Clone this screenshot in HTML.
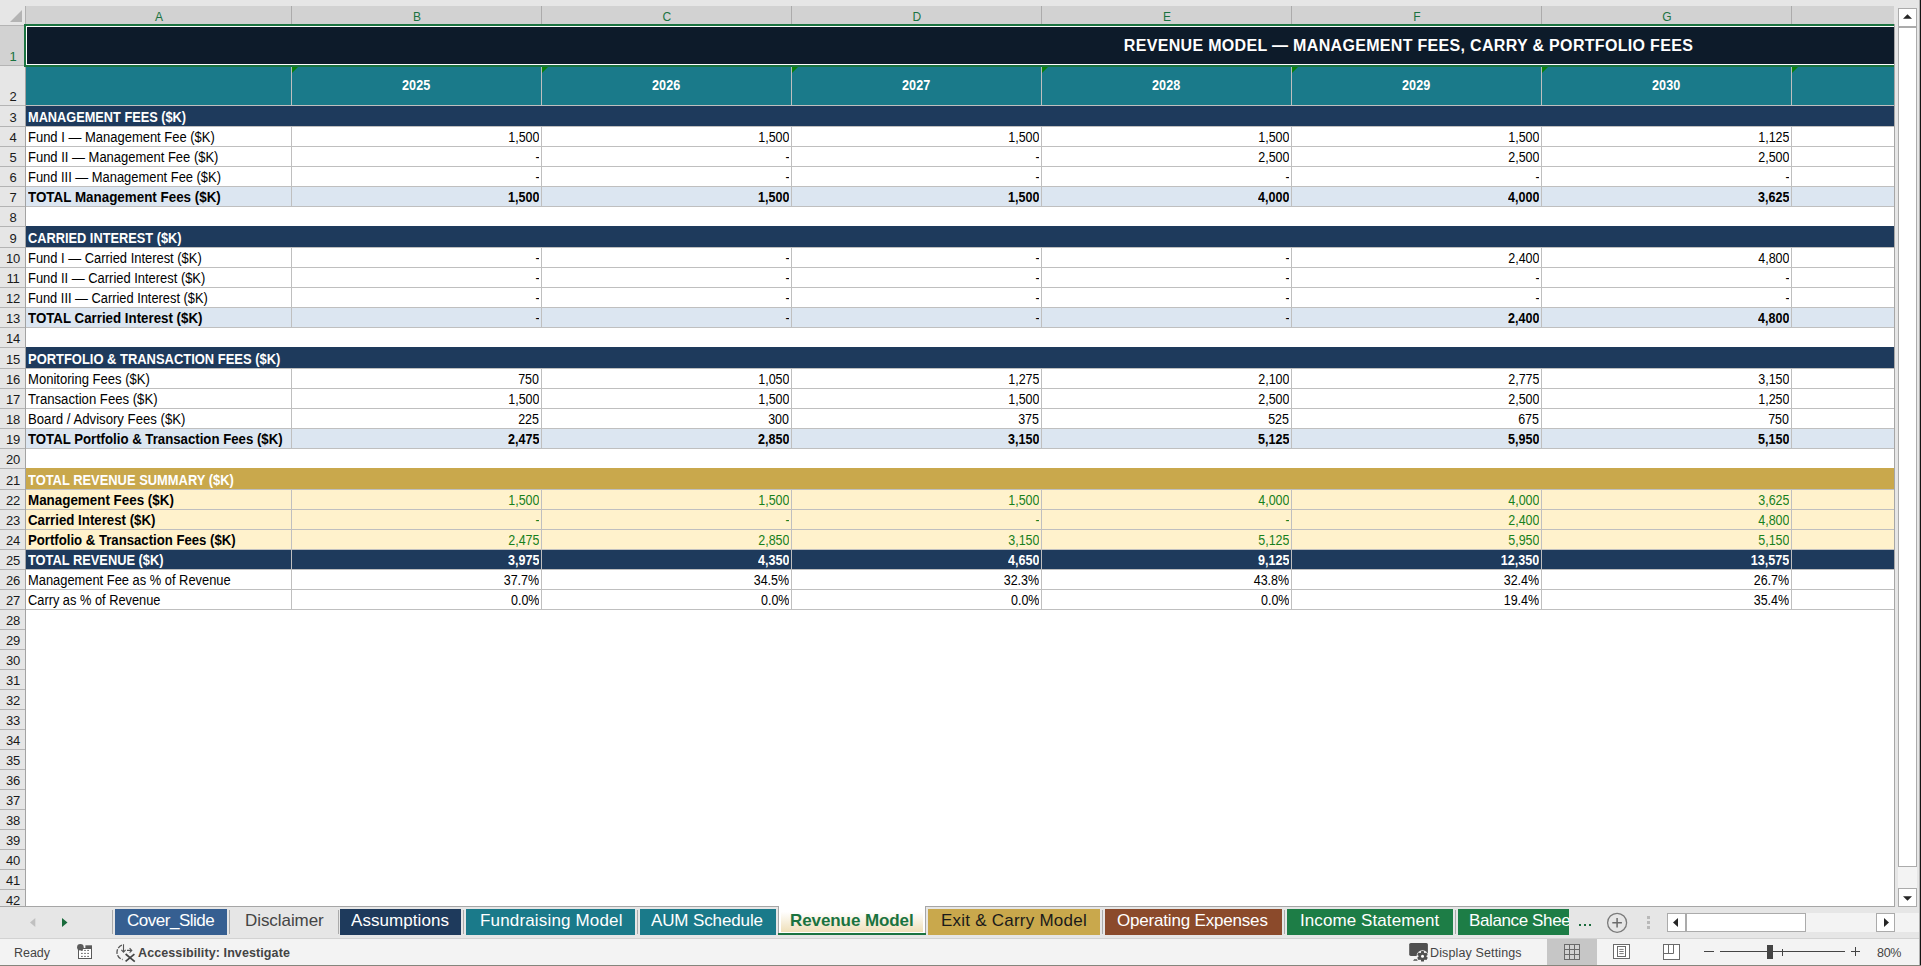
<!DOCTYPE html><html><head><meta charset="utf-8"><title>Revenue Model</title><style>
html,body{margin:0;padding:0}
body{width:1921px;height:966px;overflow:hidden;background:#e6e6e6;position:relative;font-family:"Liberation Sans",sans-serif}
body>div,body>svg{position:absolute;display:block}
.t{white-space:nowrap;overflow:hidden;font-size:13.8px;color:#000}
.sl{display:inline-block;transform-origin:0 50%}
.sr{display:inline-block;transform-origin:100% 50%;transform:scaleX(0.906)}
.bold .sr{transform:scaleX(0.91)}
.ch{text-align:center;font-size:12px;color:#1a7340}
.rh{text-align:center;font-size:13px;letter-spacing:-0.2px}
.title{font-size:16px;font-weight:bold;color:#fff;letter-spacing:0.32px}
.yr{text-align:center;font-weight:bold;color:#fff;font-size:14.5px}
.yr span{display:inline-block;transform:scaleX(0.87)}
.lab{text-align:left}
.num{text-align:right}
.bold{font-weight:bold}
.white{color:#fff}
.green{color:#18801c}
.tab{text-align:left;font-size:17px}
.st{font-size:12.5px;color:#444}
</style></head><body>
<div style="left:0px;top:0px;width:1921px;height:6px;background:#e6e6e6;"></div>
<div style="left:25px;top:6px;width:1869px;height:18px;background:#d2d2d2;"></div>
<div style="left:0px;top:6px;width:25px;height:18px;background:#e6e6e6;"></div>
<svg style="left:8px;top:9px" width="16" height="14" viewBox="0 0 16 14"><path d="M14 1 L14 13 L2 13 Z" fill="#b4b4b4"/></svg>
<div class="t ch" style="left:26.4px;top:8px;width:265px;height:18px;line-height:18px;">A</div>
<div class="t ch" style="left:292.4px;top:8px;width:249px;height:18px;line-height:18px;">B</div>
<div class="t ch" style="left:542.4px;top:8px;width:249px;height:18px;line-height:18px;">C</div>
<div class="t ch" style="left:792.4px;top:8px;width:249px;height:18px;line-height:18px;">D</div>
<div class="t ch" style="left:1042.4px;top:8px;width:249px;height:18px;line-height:18px;">E</div>
<div class="t ch" style="left:1292.4px;top:8px;width:249px;height:18px;line-height:18px;">F</div>
<div class="t ch" style="left:1542.4px;top:8px;width:249px;height:18px;line-height:18px;">G</div>
<div style="left:291px;top:6px;width:1px;height:18px;background:#ababab;"></div>
<div style="left:541px;top:6px;width:1px;height:18px;background:#ababab;"></div>
<div style="left:791px;top:6px;width:1px;height:18px;background:#ababab;"></div>
<div style="left:1041px;top:6px;width:1px;height:18px;background:#ababab;"></div>
<div style="left:1291px;top:6px;width:1px;height:18px;background:#ababab;"></div>
<div style="left:1541px;top:6px;width:1px;height:18px;background:#ababab;"></div>
<div style="left:1791px;top:6px;width:1px;height:18px;background:#ababab;"></div>
<div style="left:0px;top:24px;width:25px;height:882px;background:#e6e6e6;"></div>
<div style="left:0px;top:26px;width:25px;height:39px;background:#d2d2d2;"></div>
<div class="t rh" style="left:0.5px;top:48px;width:25px;height:18px;line-height:18px;color:#1a7340;">1</div>
<div style="left:0px;top:65px;width:25px;height:1px;background:#b4b4b4;"></div>
<div class="t rh" style="left:0.5px;top:88px;width:25px;height:18px;line-height:18px;color:#1a1a1a;">2</div>
<div style="left:0px;top:105px;width:25px;height:1px;background:#b4b4b4;"></div>
<div class="t rh" style="left:0.5px;top:109px;width:25px;height:18px;line-height:18px;color:#1a1a1a;">3</div>
<div style="left:0px;top:126px;width:25px;height:1px;background:#b4b4b4;"></div>
<div class="t rh" style="left:0.5px;top:129px;width:25px;height:18px;line-height:18px;color:#1a1a1a;">4</div>
<div style="left:0px;top:146px;width:25px;height:1px;background:#b4b4b4;"></div>
<div class="t rh" style="left:0.5px;top:149px;width:25px;height:18px;line-height:18px;color:#1a1a1a;">5</div>
<div style="left:0px;top:166px;width:25px;height:1px;background:#b4b4b4;"></div>
<div class="t rh" style="left:0.5px;top:169px;width:25px;height:18px;line-height:18px;color:#1a1a1a;">6</div>
<div style="left:0px;top:186px;width:25px;height:1px;background:#b4b4b4;"></div>
<div class="t rh" style="left:0.5px;top:189px;width:25px;height:18px;line-height:18px;color:#1a1a1a;">7</div>
<div style="left:0px;top:206px;width:25px;height:1px;background:#b4b4b4;"></div>
<div class="t rh" style="left:0.5px;top:209px;width:25px;height:18px;line-height:18px;color:#1a1a1a;">8</div>
<div style="left:0px;top:226px;width:25px;height:1px;background:#b4b4b4;"></div>
<div class="t rh" style="left:0.5px;top:230px;width:25px;height:18px;line-height:18px;color:#1a1a1a;">9</div>
<div style="left:0px;top:247px;width:25px;height:1px;background:#b4b4b4;"></div>
<div class="t rh" style="left:0.5px;top:250px;width:25px;height:18px;line-height:18px;color:#1a1a1a;">10</div>
<div style="left:0px;top:267px;width:25px;height:1px;background:#b4b4b4;"></div>
<div class="t rh" style="left:0.5px;top:270px;width:25px;height:18px;line-height:18px;color:#1a1a1a;">11</div>
<div style="left:0px;top:287px;width:25px;height:1px;background:#b4b4b4;"></div>
<div class="t rh" style="left:0.5px;top:290px;width:25px;height:18px;line-height:18px;color:#1a1a1a;">12</div>
<div style="left:0px;top:307px;width:25px;height:1px;background:#b4b4b4;"></div>
<div class="t rh" style="left:0.5px;top:310px;width:25px;height:18px;line-height:18px;color:#1a1a1a;">13</div>
<div style="left:0px;top:327px;width:25px;height:1px;background:#b4b4b4;"></div>
<div class="t rh" style="left:0.5px;top:330px;width:25px;height:18px;line-height:18px;color:#1a1a1a;">14</div>
<div style="left:0px;top:347px;width:25px;height:1px;background:#b4b4b4;"></div>
<div class="t rh" style="left:0.5px;top:351px;width:25px;height:18px;line-height:18px;color:#1a1a1a;">15</div>
<div style="left:0px;top:368px;width:25px;height:1px;background:#b4b4b4;"></div>
<div class="t rh" style="left:0.5px;top:371px;width:25px;height:18px;line-height:18px;color:#1a1a1a;">16</div>
<div style="left:0px;top:388px;width:25px;height:1px;background:#b4b4b4;"></div>
<div class="t rh" style="left:0.5px;top:391px;width:25px;height:18px;line-height:18px;color:#1a1a1a;">17</div>
<div style="left:0px;top:408px;width:25px;height:1px;background:#b4b4b4;"></div>
<div class="t rh" style="left:0.5px;top:411px;width:25px;height:18px;line-height:18px;color:#1a1a1a;">18</div>
<div style="left:0px;top:428px;width:25px;height:1px;background:#b4b4b4;"></div>
<div class="t rh" style="left:0.5px;top:431px;width:25px;height:18px;line-height:18px;color:#1a1a1a;">19</div>
<div style="left:0px;top:448px;width:25px;height:1px;background:#b4b4b4;"></div>
<div class="t rh" style="left:0.5px;top:451px;width:25px;height:18px;line-height:18px;color:#1a1a1a;">20</div>
<div style="left:0px;top:468px;width:25px;height:1px;background:#b4b4b4;"></div>
<div class="t rh" style="left:0.5px;top:472px;width:25px;height:18px;line-height:18px;color:#1a1a1a;">21</div>
<div style="left:0px;top:489px;width:25px;height:1px;background:#b4b4b4;"></div>
<div class="t rh" style="left:0.5px;top:492px;width:25px;height:18px;line-height:18px;color:#1a1a1a;">22</div>
<div style="left:0px;top:509px;width:25px;height:1px;background:#b4b4b4;"></div>
<div class="t rh" style="left:0.5px;top:512px;width:25px;height:18px;line-height:18px;color:#1a1a1a;">23</div>
<div style="left:0px;top:529px;width:25px;height:1px;background:#b4b4b4;"></div>
<div class="t rh" style="left:0.5px;top:532px;width:25px;height:18px;line-height:18px;color:#1a1a1a;">24</div>
<div style="left:0px;top:549px;width:25px;height:1px;background:#b4b4b4;"></div>
<div class="t rh" style="left:0.5px;top:552px;width:25px;height:18px;line-height:18px;color:#1a1a1a;">25</div>
<div style="left:0px;top:569px;width:25px;height:1px;background:#b4b4b4;"></div>
<div class="t rh" style="left:0.5px;top:572px;width:25px;height:18px;line-height:18px;color:#1a1a1a;">26</div>
<div style="left:0px;top:589px;width:25px;height:1px;background:#b4b4b4;"></div>
<div class="t rh" style="left:0.5px;top:592px;width:25px;height:18px;line-height:18px;color:#1a1a1a;">27</div>
<div style="left:0px;top:609px;width:25px;height:1px;background:#b4b4b4;"></div>
<div class="t rh" style="left:0.5px;top:612px;width:25px;height:18px;line-height:18px;color:#1a1a1a;">28</div>
<div style="left:0px;top:629px;width:25px;height:1px;background:#b4b4b4;"></div>
<div class="t rh" style="left:0.5px;top:632px;width:25px;height:18px;line-height:18px;color:#1a1a1a;">29</div>
<div style="left:0px;top:649px;width:25px;height:1px;background:#b4b4b4;"></div>
<div class="t rh" style="left:0.5px;top:652px;width:25px;height:18px;line-height:18px;color:#1a1a1a;">30</div>
<div style="left:0px;top:669px;width:25px;height:1px;background:#b4b4b4;"></div>
<div class="t rh" style="left:0.5px;top:672px;width:25px;height:18px;line-height:18px;color:#1a1a1a;">31</div>
<div style="left:0px;top:689px;width:25px;height:1px;background:#b4b4b4;"></div>
<div class="t rh" style="left:0.5px;top:692px;width:25px;height:18px;line-height:18px;color:#1a1a1a;">32</div>
<div style="left:0px;top:709px;width:25px;height:1px;background:#b4b4b4;"></div>
<div class="t rh" style="left:0.5px;top:712px;width:25px;height:18px;line-height:18px;color:#1a1a1a;">33</div>
<div style="left:0px;top:729px;width:25px;height:1px;background:#b4b4b4;"></div>
<div class="t rh" style="left:0.5px;top:732px;width:25px;height:18px;line-height:18px;color:#1a1a1a;">34</div>
<div style="left:0px;top:749px;width:25px;height:1px;background:#b4b4b4;"></div>
<div class="t rh" style="left:0.5px;top:752px;width:25px;height:18px;line-height:18px;color:#1a1a1a;">35</div>
<div style="left:0px;top:769px;width:25px;height:1px;background:#b4b4b4;"></div>
<div class="t rh" style="left:0.5px;top:772px;width:25px;height:18px;line-height:18px;color:#1a1a1a;">36</div>
<div style="left:0px;top:789px;width:25px;height:1px;background:#b4b4b4;"></div>
<div class="t rh" style="left:0.5px;top:792px;width:25px;height:18px;line-height:18px;color:#1a1a1a;">37</div>
<div style="left:0px;top:809px;width:25px;height:1px;background:#b4b4b4;"></div>
<div class="t rh" style="left:0.5px;top:812px;width:25px;height:18px;line-height:18px;color:#1a1a1a;">38</div>
<div style="left:0px;top:829px;width:25px;height:1px;background:#b4b4b4;"></div>
<div class="t rh" style="left:0.5px;top:832px;width:25px;height:18px;line-height:18px;color:#1a1a1a;">39</div>
<div style="left:0px;top:849px;width:25px;height:1px;background:#b4b4b4;"></div>
<div class="t rh" style="left:0.5px;top:852px;width:25px;height:18px;line-height:18px;color:#1a1a1a;">40</div>
<div style="left:0px;top:869px;width:25px;height:1px;background:#b4b4b4;"></div>
<div class="t rh" style="left:0.5px;top:872px;width:25px;height:18px;line-height:18px;color:#1a1a1a;">41</div>
<div style="left:0px;top:889px;width:25px;height:1px;background:#b4b4b4;"></div>
<div class="t rh" style="left:0.5px;top:892px;width:25px;height:18px;line-height:18px;color:#1a1a1a;">42</div>
<div style="left:25px;top:24px;width:1px;height:882px;background:#a3a3a3;"></div>
<div style="left:0px;top:25px;width:24px;height:1px;background:#b4b4b4;"></div>
<div style="left:25px;top:6px;width:1px;height:18px;background:#b0b0b0;"></div>
<div style="left:26px;top:25px;width:1868px;height:881px;background:#fff;"></div>
<div style="left:26px;top:25px;width:1868px;height:40px;background:#0d1b2a;"></div>
<div style="left:26px;top:66px;width:1868px;height:39px;background:#1a7a8a;"></div>
<div style="left:26px;top:106px;width:1868px;height:20px;background:#1e3a5c;"></div>
<div style="left:26px;top:226px;width:1868px;height:21px;background:#1e3a5c;"></div>
<div style="left:26px;top:347px;width:1868px;height:21px;background:#1e3a5c;"></div>
<div style="left:26px;top:550px;width:1868px;height:19px;background:#1e3a5c;"></div>
<div style="left:26px;top:187px;width:1868px;height:19px;background:#dce6f1;"></div>
<div style="left:26px;top:308px;width:1868px;height:19px;background:#dce6f1;"></div>
<div style="left:26px;top:429px;width:1868px;height:19px;background:#dce6f1;"></div>
<div style="left:26px;top:468px;width:1868px;height:21px;background:#c9a84c;"></div>
<div style="left:26px;top:490px;width:1868px;height:19px;background:#fff2cc;"></div>
<div style="left:26px;top:510px;width:1868px;height:19px;background:#fff2cc;"></div>
<div style="left:26px;top:530px;width:1868px;height:19px;background:#fff2cc;"></div>
<div style="left:26px;top:105px;width:1868px;height:1px;background:#bfbfbf;"></div>
<div style="left:291px;top:66px;width:1px;height:40px;background:#bfbfbf;"></div>
<div style="left:541px;top:66px;width:1px;height:40px;background:#bfbfbf;"></div>
<div style="left:791px;top:66px;width:1px;height:40px;background:#bfbfbf;"></div>
<div style="left:1041px;top:66px;width:1px;height:40px;background:#bfbfbf;"></div>
<div style="left:1291px;top:66px;width:1px;height:40px;background:#bfbfbf;"></div>
<div style="left:1541px;top:66px;width:1px;height:40px;background:#bfbfbf;"></div>
<div style="left:1791px;top:66px;width:1px;height:40px;background:#bfbfbf;"></div>
<div style="left:26px;top:146px;width:1868px;height:1px;background:#bfbfbf;"></div>
<div style="left:291px;top:127px;width:1px;height:20px;background:#bfbfbf;"></div>
<div style="left:541px;top:127px;width:1px;height:20px;background:#bfbfbf;"></div>
<div style="left:791px;top:127px;width:1px;height:20px;background:#bfbfbf;"></div>
<div style="left:1041px;top:127px;width:1px;height:20px;background:#bfbfbf;"></div>
<div style="left:1291px;top:127px;width:1px;height:20px;background:#bfbfbf;"></div>
<div style="left:1541px;top:127px;width:1px;height:20px;background:#bfbfbf;"></div>
<div style="left:1791px;top:127px;width:1px;height:20px;background:#bfbfbf;"></div>
<div style="left:26px;top:166px;width:1868px;height:1px;background:#bfbfbf;"></div>
<div style="left:291px;top:147px;width:1px;height:20px;background:#bfbfbf;"></div>
<div style="left:541px;top:147px;width:1px;height:20px;background:#bfbfbf;"></div>
<div style="left:791px;top:147px;width:1px;height:20px;background:#bfbfbf;"></div>
<div style="left:1041px;top:147px;width:1px;height:20px;background:#bfbfbf;"></div>
<div style="left:1291px;top:147px;width:1px;height:20px;background:#bfbfbf;"></div>
<div style="left:1541px;top:147px;width:1px;height:20px;background:#bfbfbf;"></div>
<div style="left:1791px;top:147px;width:1px;height:20px;background:#bfbfbf;"></div>
<div style="left:26px;top:186px;width:1868px;height:1px;background:#bfbfbf;"></div>
<div style="left:291px;top:167px;width:1px;height:20px;background:#bfbfbf;"></div>
<div style="left:541px;top:167px;width:1px;height:20px;background:#bfbfbf;"></div>
<div style="left:791px;top:167px;width:1px;height:20px;background:#bfbfbf;"></div>
<div style="left:1041px;top:167px;width:1px;height:20px;background:#bfbfbf;"></div>
<div style="left:1291px;top:167px;width:1px;height:20px;background:#bfbfbf;"></div>
<div style="left:1541px;top:167px;width:1px;height:20px;background:#bfbfbf;"></div>
<div style="left:1791px;top:167px;width:1px;height:20px;background:#bfbfbf;"></div>
<div style="left:26px;top:206px;width:1868px;height:1px;background:#bfbfbf;"></div>
<div style="left:291px;top:187px;width:1px;height:20px;background:#bfbfbf;"></div>
<div style="left:541px;top:187px;width:1px;height:20px;background:#bfbfbf;"></div>
<div style="left:791px;top:187px;width:1px;height:20px;background:#bfbfbf;"></div>
<div style="left:1041px;top:187px;width:1px;height:20px;background:#bfbfbf;"></div>
<div style="left:1291px;top:187px;width:1px;height:20px;background:#bfbfbf;"></div>
<div style="left:1541px;top:187px;width:1px;height:20px;background:#bfbfbf;"></div>
<div style="left:1791px;top:187px;width:1px;height:20px;background:#bfbfbf;"></div>
<div style="left:26px;top:267px;width:1868px;height:1px;background:#bfbfbf;"></div>
<div style="left:291px;top:248px;width:1px;height:20px;background:#bfbfbf;"></div>
<div style="left:541px;top:248px;width:1px;height:20px;background:#bfbfbf;"></div>
<div style="left:791px;top:248px;width:1px;height:20px;background:#bfbfbf;"></div>
<div style="left:1041px;top:248px;width:1px;height:20px;background:#bfbfbf;"></div>
<div style="left:1291px;top:248px;width:1px;height:20px;background:#bfbfbf;"></div>
<div style="left:1541px;top:248px;width:1px;height:20px;background:#bfbfbf;"></div>
<div style="left:1791px;top:248px;width:1px;height:20px;background:#bfbfbf;"></div>
<div style="left:26px;top:287px;width:1868px;height:1px;background:#bfbfbf;"></div>
<div style="left:291px;top:268px;width:1px;height:20px;background:#bfbfbf;"></div>
<div style="left:541px;top:268px;width:1px;height:20px;background:#bfbfbf;"></div>
<div style="left:791px;top:268px;width:1px;height:20px;background:#bfbfbf;"></div>
<div style="left:1041px;top:268px;width:1px;height:20px;background:#bfbfbf;"></div>
<div style="left:1291px;top:268px;width:1px;height:20px;background:#bfbfbf;"></div>
<div style="left:1541px;top:268px;width:1px;height:20px;background:#bfbfbf;"></div>
<div style="left:1791px;top:268px;width:1px;height:20px;background:#bfbfbf;"></div>
<div style="left:26px;top:307px;width:1868px;height:1px;background:#bfbfbf;"></div>
<div style="left:291px;top:288px;width:1px;height:20px;background:#bfbfbf;"></div>
<div style="left:541px;top:288px;width:1px;height:20px;background:#bfbfbf;"></div>
<div style="left:791px;top:288px;width:1px;height:20px;background:#bfbfbf;"></div>
<div style="left:1041px;top:288px;width:1px;height:20px;background:#bfbfbf;"></div>
<div style="left:1291px;top:288px;width:1px;height:20px;background:#bfbfbf;"></div>
<div style="left:1541px;top:288px;width:1px;height:20px;background:#bfbfbf;"></div>
<div style="left:1791px;top:288px;width:1px;height:20px;background:#bfbfbf;"></div>
<div style="left:26px;top:327px;width:1868px;height:1px;background:#bfbfbf;"></div>
<div style="left:291px;top:308px;width:1px;height:20px;background:#bfbfbf;"></div>
<div style="left:541px;top:308px;width:1px;height:20px;background:#bfbfbf;"></div>
<div style="left:791px;top:308px;width:1px;height:20px;background:#bfbfbf;"></div>
<div style="left:1041px;top:308px;width:1px;height:20px;background:#bfbfbf;"></div>
<div style="left:1291px;top:308px;width:1px;height:20px;background:#bfbfbf;"></div>
<div style="left:1541px;top:308px;width:1px;height:20px;background:#bfbfbf;"></div>
<div style="left:1791px;top:308px;width:1px;height:20px;background:#bfbfbf;"></div>
<div style="left:26px;top:388px;width:1868px;height:1px;background:#bfbfbf;"></div>
<div style="left:291px;top:369px;width:1px;height:20px;background:#bfbfbf;"></div>
<div style="left:541px;top:369px;width:1px;height:20px;background:#bfbfbf;"></div>
<div style="left:791px;top:369px;width:1px;height:20px;background:#bfbfbf;"></div>
<div style="left:1041px;top:369px;width:1px;height:20px;background:#bfbfbf;"></div>
<div style="left:1291px;top:369px;width:1px;height:20px;background:#bfbfbf;"></div>
<div style="left:1541px;top:369px;width:1px;height:20px;background:#bfbfbf;"></div>
<div style="left:1791px;top:369px;width:1px;height:20px;background:#bfbfbf;"></div>
<div style="left:26px;top:408px;width:1868px;height:1px;background:#bfbfbf;"></div>
<div style="left:291px;top:389px;width:1px;height:20px;background:#bfbfbf;"></div>
<div style="left:541px;top:389px;width:1px;height:20px;background:#bfbfbf;"></div>
<div style="left:791px;top:389px;width:1px;height:20px;background:#bfbfbf;"></div>
<div style="left:1041px;top:389px;width:1px;height:20px;background:#bfbfbf;"></div>
<div style="left:1291px;top:389px;width:1px;height:20px;background:#bfbfbf;"></div>
<div style="left:1541px;top:389px;width:1px;height:20px;background:#bfbfbf;"></div>
<div style="left:1791px;top:389px;width:1px;height:20px;background:#bfbfbf;"></div>
<div style="left:26px;top:428px;width:1868px;height:1px;background:#bfbfbf;"></div>
<div style="left:291px;top:409px;width:1px;height:20px;background:#bfbfbf;"></div>
<div style="left:541px;top:409px;width:1px;height:20px;background:#bfbfbf;"></div>
<div style="left:791px;top:409px;width:1px;height:20px;background:#bfbfbf;"></div>
<div style="left:1041px;top:409px;width:1px;height:20px;background:#bfbfbf;"></div>
<div style="left:1291px;top:409px;width:1px;height:20px;background:#bfbfbf;"></div>
<div style="left:1541px;top:409px;width:1px;height:20px;background:#bfbfbf;"></div>
<div style="left:1791px;top:409px;width:1px;height:20px;background:#bfbfbf;"></div>
<div style="left:26px;top:448px;width:1868px;height:1px;background:#bfbfbf;"></div>
<div style="left:291px;top:429px;width:1px;height:20px;background:#bfbfbf;"></div>
<div style="left:541px;top:429px;width:1px;height:20px;background:#bfbfbf;"></div>
<div style="left:791px;top:429px;width:1px;height:20px;background:#bfbfbf;"></div>
<div style="left:1041px;top:429px;width:1px;height:20px;background:#bfbfbf;"></div>
<div style="left:1291px;top:429px;width:1px;height:20px;background:#bfbfbf;"></div>
<div style="left:1541px;top:429px;width:1px;height:20px;background:#bfbfbf;"></div>
<div style="left:1791px;top:429px;width:1px;height:20px;background:#bfbfbf;"></div>
<div style="left:26px;top:509px;width:1868px;height:1px;background:#bfbfbf;"></div>
<div style="left:291px;top:490px;width:1px;height:20px;background:#bfbfbf;"></div>
<div style="left:541px;top:490px;width:1px;height:20px;background:#bfbfbf;"></div>
<div style="left:791px;top:490px;width:1px;height:20px;background:#bfbfbf;"></div>
<div style="left:1041px;top:490px;width:1px;height:20px;background:#bfbfbf;"></div>
<div style="left:1291px;top:490px;width:1px;height:20px;background:#bfbfbf;"></div>
<div style="left:1541px;top:490px;width:1px;height:20px;background:#bfbfbf;"></div>
<div style="left:1791px;top:490px;width:1px;height:20px;background:#bfbfbf;"></div>
<div style="left:26px;top:529px;width:1868px;height:1px;background:#bfbfbf;"></div>
<div style="left:291px;top:510px;width:1px;height:20px;background:#bfbfbf;"></div>
<div style="left:541px;top:510px;width:1px;height:20px;background:#bfbfbf;"></div>
<div style="left:791px;top:510px;width:1px;height:20px;background:#bfbfbf;"></div>
<div style="left:1041px;top:510px;width:1px;height:20px;background:#bfbfbf;"></div>
<div style="left:1291px;top:510px;width:1px;height:20px;background:#bfbfbf;"></div>
<div style="left:1541px;top:510px;width:1px;height:20px;background:#bfbfbf;"></div>
<div style="left:1791px;top:510px;width:1px;height:20px;background:#bfbfbf;"></div>
<div style="left:26px;top:549px;width:1868px;height:1px;background:#bfbfbf;"></div>
<div style="left:291px;top:530px;width:1px;height:20px;background:#bfbfbf;"></div>
<div style="left:541px;top:530px;width:1px;height:20px;background:#bfbfbf;"></div>
<div style="left:791px;top:530px;width:1px;height:20px;background:#bfbfbf;"></div>
<div style="left:1041px;top:530px;width:1px;height:20px;background:#bfbfbf;"></div>
<div style="left:1291px;top:530px;width:1px;height:20px;background:#bfbfbf;"></div>
<div style="left:1541px;top:530px;width:1px;height:20px;background:#bfbfbf;"></div>
<div style="left:1791px;top:530px;width:1px;height:20px;background:#bfbfbf;"></div>
<div style="left:26px;top:569px;width:1868px;height:1px;background:#bfbfbf;"></div>
<div style="left:291px;top:550px;width:1px;height:20px;background:#bfbfbf;"></div>
<div style="left:541px;top:550px;width:1px;height:20px;background:#bfbfbf;"></div>
<div style="left:791px;top:550px;width:1px;height:20px;background:#bfbfbf;"></div>
<div style="left:1041px;top:550px;width:1px;height:20px;background:#bfbfbf;"></div>
<div style="left:1291px;top:550px;width:1px;height:20px;background:#bfbfbf;"></div>
<div style="left:1541px;top:550px;width:1px;height:20px;background:#bfbfbf;"></div>
<div style="left:1791px;top:550px;width:1px;height:20px;background:#bfbfbf;"></div>
<div style="left:26px;top:589px;width:1868px;height:1px;background:#bfbfbf;"></div>
<div style="left:291px;top:570px;width:1px;height:20px;background:#bfbfbf;"></div>
<div style="left:541px;top:570px;width:1px;height:20px;background:#bfbfbf;"></div>
<div style="left:791px;top:570px;width:1px;height:20px;background:#bfbfbf;"></div>
<div style="left:1041px;top:570px;width:1px;height:20px;background:#bfbfbf;"></div>
<div style="left:1291px;top:570px;width:1px;height:20px;background:#bfbfbf;"></div>
<div style="left:1541px;top:570px;width:1px;height:20px;background:#bfbfbf;"></div>
<div style="left:1791px;top:570px;width:1px;height:20px;background:#bfbfbf;"></div>
<div style="left:26px;top:609px;width:1868px;height:1px;background:#bfbfbf;"></div>
<div style="left:291px;top:590px;width:1px;height:20px;background:#bfbfbf;"></div>
<div style="left:541px;top:590px;width:1px;height:20px;background:#bfbfbf;"></div>
<div style="left:791px;top:590px;width:1px;height:20px;background:#bfbfbf;"></div>
<div style="left:1041px;top:590px;width:1px;height:20px;background:#bfbfbf;"></div>
<div style="left:1291px;top:590px;width:1px;height:20px;background:#bfbfbf;"></div>
<div style="left:1541px;top:590px;width:1px;height:20px;background:#bfbfbf;"></div>
<div style="left:1791px;top:590px;width:1px;height:20px;background:#bfbfbf;"></div>
<div style="left:26px;top:126px;width:1868px;height:1px;background:#bfbfbf;"></div>
<div style="left:26px;top:247px;width:1868px;height:1px;background:#bfbfbf;"></div>
<div style="left:26px;top:368px;width:1868px;height:1px;background:#bfbfbf;"></div>
<div style="left:26px;top:489px;width:1868px;height:1px;background:#bfbfbf;"></div>
<div class="t title" style="left:1024px;top:27px;width:769px;height:38px;line-height:38px;text-align:center;">REVENUE MODEL — MANAGEMENT FEES, CARRY &amp; PORTFOLIO FEES</div>
<div class="t yr" style="left:292px;top:66px;width:249px;height:39px;line-height:39px;"><span>2025</span></div>
<div class="t yr" style="left:542px;top:66px;width:249px;height:39px;line-height:39px;"><span>2026</span></div>
<div class="t yr" style="left:792px;top:66px;width:249px;height:39px;line-height:39px;"><span>2027</span></div>
<div class="t yr" style="left:1042px;top:66px;width:249px;height:39px;line-height:39px;"><span>2028</span></div>
<div class="t yr" style="left:1292px;top:66px;width:249px;height:39px;line-height:39px;"><span>2029</span></div>
<div class="t yr" style="left:1542px;top:66px;width:249px;height:39px;line-height:39px;"><span>2030</span></div>
<svg style="left:292px;top:67px" width="6" height="6" viewBox="0 0 6 6"><path d="M0 0 L6 0 L0 6 Z" fill="#0a820a"/></svg>
<svg style="left:542px;top:67px" width="6" height="6" viewBox="0 0 6 6"><path d="M0 0 L6 0 L0 6 Z" fill="#0a820a"/></svg>
<svg style="left:792px;top:67px" width="6" height="6" viewBox="0 0 6 6"><path d="M0 0 L6 0 L0 6 Z" fill="#0a820a"/></svg>
<svg style="left:1042px;top:67px" width="6" height="6" viewBox="0 0 6 6"><path d="M0 0 L6 0 L0 6 Z" fill="#0a820a"/></svg>
<svg style="left:1292px;top:67px" width="6" height="6" viewBox="0 0 6 6"><path d="M0 0 L6 0 L0 6 Z" fill="#0a820a"/></svg>
<svg style="left:1542px;top:67px" width="6" height="6" viewBox="0 0 6 6"><path d="M0 0 L6 0 L0 6 Z" fill="#0a820a"/></svg>
<svg style="left:1792px;top:67px" width="6" height="6" viewBox="0 0 6 6"><path d="M0 0 L6 0 L0 6 Z" fill="#0a820a"/></svg>
<div class="t lab bold white" style="left:28px;top:108px;width:600px;height:20px;line-height:20px;"><span class="sl" style="transform:scaleX(0.9246)">MANAGEMENT FEES ($K)</span></div>
<div class="t lab" style="left:28px;top:128px;width:262px;height:19px;line-height:19px;"><span class="sl" style="transform:scaleX(0.9406)">Fund I — Management Fee ($K)</span></div>
<div class="t num" style="left:292px;top:128px;width:247.2px;height:19px;line-height:19px;"><span class="sr">1,500</span></div>
<div class="t num" style="left:542px;top:128px;width:247.2px;height:19px;line-height:19px;"><span class="sr">1,500</span></div>
<div class="t num" style="left:792px;top:128px;width:247.2px;height:19px;line-height:19px;"><span class="sr">1,500</span></div>
<div class="t num" style="left:1042px;top:128px;width:247.2px;height:19px;line-height:19px;"><span class="sr">1,500</span></div>
<div class="t num" style="left:1292px;top:128px;width:247.2px;height:19px;line-height:19px;"><span class="sr">1,500</span></div>
<div class="t num" style="left:1542px;top:128px;width:247.2px;height:19px;line-height:19px;"><span class="sr">1,125</span></div>
<div class="t lab" style="left:28px;top:148px;width:262px;height:19px;line-height:19px;"><span class="sl" style="transform:scaleX(0.9406)">Fund II — Management Fee ($K)</span></div>
<div class="t num" style="left:292px;top:148px;width:247.2px;height:19px;line-height:19px;"><span class="sr">-</span></div>
<div class="t num" style="left:542px;top:148px;width:247.2px;height:19px;line-height:19px;"><span class="sr">-</span></div>
<div class="t num" style="left:792px;top:148px;width:247.2px;height:19px;line-height:19px;"><span class="sr">-</span></div>
<div class="t num" style="left:1042px;top:148px;width:247.2px;height:19px;line-height:19px;"><span class="sr">2,500</span></div>
<div class="t num" style="left:1292px;top:148px;width:247.2px;height:19px;line-height:19px;"><span class="sr">2,500</span></div>
<div class="t num" style="left:1542px;top:148px;width:247.2px;height:19px;line-height:19px;"><span class="sr">2,500</span></div>
<div class="t lab" style="left:28px;top:168px;width:262px;height:19px;line-height:19px;"><span class="sl" style="transform:scaleX(0.9354)">Fund III — Management Fee ($K)</span></div>
<div class="t num" style="left:292px;top:168px;width:247.2px;height:19px;line-height:19px;"><span class="sr">-</span></div>
<div class="t num" style="left:542px;top:168px;width:247.2px;height:19px;line-height:19px;"><span class="sr">-</span></div>
<div class="t num" style="left:792px;top:168px;width:247.2px;height:19px;line-height:19px;"><span class="sr">-</span></div>
<div class="t num" style="left:1042px;top:168px;width:247.2px;height:19px;line-height:19px;"><span class="sr">-</span></div>
<div class="t num" style="left:1292px;top:168px;width:247.2px;height:19px;line-height:19px;"><span class="sr">-</span></div>
<div class="t num" style="left:1542px;top:168px;width:247.2px;height:19px;line-height:19px;"><span class="sr">-</span></div>
<div class="t lab bold" style="left:28px;top:188px;width:262px;height:19px;line-height:19px;"><span class="sl" style="transform:scaleX(0.9711)">TOTAL Management Fees ($K)</span></div>
<div class="t num bold" style="left:292px;top:188px;width:247.2px;height:19px;line-height:19px;"><span class="sr">1,500</span></div>
<div class="t num bold" style="left:542px;top:188px;width:247.2px;height:19px;line-height:19px;"><span class="sr">1,500</span></div>
<div class="t num bold" style="left:792px;top:188px;width:247.2px;height:19px;line-height:19px;"><span class="sr">1,500</span></div>
<div class="t num bold" style="left:1042px;top:188px;width:247.2px;height:19px;line-height:19px;"><span class="sr">4,000</span></div>
<div class="t num bold" style="left:1292px;top:188px;width:247.2px;height:19px;line-height:19px;"><span class="sr">4,000</span></div>
<div class="t num bold" style="left:1542px;top:188px;width:247.2px;height:19px;line-height:19px;"><span class="sr">3,625</span></div>
<div class="t lab bold white" style="left:28px;top:229px;width:600px;height:20px;line-height:20px;"><span class="sl" style="transform:scaleX(0.9276)">CARRIED INTEREST ($K)</span></div>
<div class="t lab" style="left:28px;top:249px;width:262px;height:19px;line-height:19px;"><span class="sl" style="transform:scaleX(0.9360)">Fund I — Carried Interest ($K)</span></div>
<div class="t num" style="left:292px;top:249px;width:247.2px;height:19px;line-height:19px;"><span class="sr">-</span></div>
<div class="t num" style="left:542px;top:249px;width:247.2px;height:19px;line-height:19px;"><span class="sr">-</span></div>
<div class="t num" style="left:792px;top:249px;width:247.2px;height:19px;line-height:19px;"><span class="sr">-</span></div>
<div class="t num" style="left:1042px;top:249px;width:247.2px;height:19px;line-height:19px;"><span class="sr">-</span></div>
<div class="t num" style="left:1292px;top:249px;width:247.2px;height:19px;line-height:19px;"><span class="sr">2,400</span></div>
<div class="t num" style="left:1542px;top:249px;width:247.2px;height:19px;line-height:19px;"><span class="sr">4,800</span></div>
<div class="t lab" style="left:28px;top:269px;width:262px;height:19px;line-height:19px;"><span class="sl" style="transform:scaleX(0.9361)">Fund II — Carried Interest ($K)</span></div>
<div class="t num" style="left:292px;top:269px;width:247.2px;height:19px;line-height:19px;"><span class="sr">-</span></div>
<div class="t num" style="left:542px;top:269px;width:247.2px;height:19px;line-height:19px;"><span class="sr">-</span></div>
<div class="t num" style="left:792px;top:269px;width:247.2px;height:19px;line-height:19px;"><span class="sr">-</span></div>
<div class="t num" style="left:1042px;top:269px;width:247.2px;height:19px;line-height:19px;"><span class="sr">-</span></div>
<div class="t num" style="left:1292px;top:269px;width:247.2px;height:19px;line-height:19px;"><span class="sr">-</span></div>
<div class="t num" style="left:1542px;top:269px;width:247.2px;height:19px;line-height:19px;"><span class="sr">-</span></div>
<div class="t lab" style="left:28px;top:289px;width:262px;height:19px;line-height:19px;"><span class="sl" style="transform:scaleX(0.9305)">Fund III — Carried Interest ($K)</span></div>
<div class="t num" style="left:292px;top:289px;width:247.2px;height:19px;line-height:19px;"><span class="sr">-</span></div>
<div class="t num" style="left:542px;top:289px;width:247.2px;height:19px;line-height:19px;"><span class="sr">-</span></div>
<div class="t num" style="left:792px;top:289px;width:247.2px;height:19px;line-height:19px;"><span class="sr">-</span></div>
<div class="t num" style="left:1042px;top:289px;width:247.2px;height:19px;line-height:19px;"><span class="sr">-</span></div>
<div class="t num" style="left:1292px;top:289px;width:247.2px;height:19px;line-height:19px;"><span class="sr">-</span></div>
<div class="t num" style="left:1542px;top:289px;width:247.2px;height:19px;line-height:19px;"><span class="sr">-</span></div>
<div class="t lab bold" style="left:28px;top:309px;width:262px;height:19px;line-height:19px;"><span class="sl" style="transform:scaleX(0.9640)">TOTAL Carried Interest ($K)</span></div>
<div class="t num bold" style="left:292px;top:309px;width:247.2px;height:19px;line-height:19px;font-weight:normal;"><span class="sr">-</span></div>
<div class="t num bold" style="left:542px;top:309px;width:247.2px;height:19px;line-height:19px;font-weight:normal;"><span class="sr">-</span></div>
<div class="t num bold" style="left:792px;top:309px;width:247.2px;height:19px;line-height:19px;font-weight:normal;"><span class="sr">-</span></div>
<div class="t num bold" style="left:1042px;top:309px;width:247.2px;height:19px;line-height:19px;font-weight:normal;"><span class="sr">-</span></div>
<div class="t num bold" style="left:1292px;top:309px;width:247.2px;height:19px;line-height:19px;"><span class="sr">2,400</span></div>
<div class="t num bold" style="left:1542px;top:309px;width:247.2px;height:19px;line-height:19px;"><span class="sr">4,800</span></div>
<div class="t lab bold white" style="left:28px;top:350px;width:600px;height:20px;line-height:20px;"><span class="sl" style="transform:scaleX(0.9380)">PORTFOLIO &amp; TRANSACTION FEES ($K)</span></div>
<div class="t lab" style="left:28px;top:370px;width:262px;height:19px;line-height:19px;"><span class="sl" style="transform:scaleX(0.9463)">Monitoring Fees ($K)</span></div>
<div class="t num" style="left:292px;top:370px;width:247.2px;height:19px;line-height:19px;"><span class="sr">750</span></div>
<div class="t num" style="left:542px;top:370px;width:247.2px;height:19px;line-height:19px;"><span class="sr">1,050</span></div>
<div class="t num" style="left:792px;top:370px;width:247.2px;height:19px;line-height:19px;"><span class="sr">1,275</span></div>
<div class="t num" style="left:1042px;top:370px;width:247.2px;height:19px;line-height:19px;"><span class="sr">2,100</span></div>
<div class="t num" style="left:1292px;top:370px;width:247.2px;height:19px;line-height:19px;"><span class="sr">2,775</span></div>
<div class="t num" style="left:1542px;top:370px;width:247.2px;height:19px;line-height:19px;"><span class="sr">3,150</span></div>
<div class="t lab" style="left:28px;top:390px;width:262px;height:19px;line-height:19px;"><span class="sl" style="transform:scaleX(0.9530)">Transaction Fees ($K)</span></div>
<div class="t num" style="left:292px;top:390px;width:247.2px;height:19px;line-height:19px;"><span class="sr">1,500</span></div>
<div class="t num" style="left:542px;top:390px;width:247.2px;height:19px;line-height:19px;"><span class="sr">1,500</span></div>
<div class="t num" style="left:792px;top:390px;width:247.2px;height:19px;line-height:19px;"><span class="sr">1,500</span></div>
<div class="t num" style="left:1042px;top:390px;width:247.2px;height:19px;line-height:19px;"><span class="sr">2,500</span></div>
<div class="t num" style="left:1292px;top:390px;width:247.2px;height:19px;line-height:19px;"><span class="sr">2,500</span></div>
<div class="t num" style="left:1542px;top:390px;width:247.2px;height:19px;line-height:19px;"><span class="sr">1,250</span></div>
<div class="t lab" style="left:28px;top:410px;width:262px;height:19px;line-height:19px;"><span class="sl" style="transform:scaleX(0.9551)">Board / Advisory Fees ($K)</span></div>
<div class="t num" style="left:292px;top:410px;width:247.2px;height:19px;line-height:19px;"><span class="sr">225</span></div>
<div class="t num" style="left:542px;top:410px;width:247.2px;height:19px;line-height:19px;"><span class="sr">300</span></div>
<div class="t num" style="left:792px;top:410px;width:247.2px;height:19px;line-height:19px;"><span class="sr">375</span></div>
<div class="t num" style="left:1042px;top:410px;width:247.2px;height:19px;line-height:19px;"><span class="sr">525</span></div>
<div class="t num" style="left:1292px;top:410px;width:247.2px;height:19px;line-height:19px;"><span class="sr">675</span></div>
<div class="t num" style="left:1542px;top:410px;width:247.2px;height:19px;line-height:19px;"><span class="sr">750</span></div>
<div class="t lab bold" style="left:28px;top:430px;width:262px;height:19px;line-height:19px;"><span class="sl" style="transform:scaleX(0.9570)">TOTAL Portfolio &amp; Transaction Fees ($K)</span></div>
<div class="t num bold" style="left:292px;top:430px;width:247.2px;height:19px;line-height:19px;"><span class="sr">2,475</span></div>
<div class="t num bold" style="left:542px;top:430px;width:247.2px;height:19px;line-height:19px;"><span class="sr">2,850</span></div>
<div class="t num bold" style="left:792px;top:430px;width:247.2px;height:19px;line-height:19px;"><span class="sr">3,150</span></div>
<div class="t num bold" style="left:1042px;top:430px;width:247.2px;height:19px;line-height:19px;"><span class="sr">5,125</span></div>
<div class="t num bold" style="left:1292px;top:430px;width:247.2px;height:19px;line-height:19px;"><span class="sr">5,950</span></div>
<div class="t num bold" style="left:1542px;top:430px;width:247.2px;height:19px;line-height:19px;"><span class="sr">5,150</span></div>
<div class="t lab bold white" style="left:28px;top:471px;width:600px;height:20px;line-height:20px;"><span class="sl" style="transform:scaleX(0.9353)">TOTAL REVENUE SUMMARY ($K)</span></div>
<div class="t lab bold" style="left:28px;top:491px;width:262px;height:19px;line-height:19px;"><span class="sl" style="transform:scaleX(0.9707)">Management Fees ($K)</span></div>
<div class="t num green" style="left:292px;top:491px;width:247.2px;height:19px;line-height:19px;"><span class="sr">1,500</span></div>
<div class="t num green" style="left:542px;top:491px;width:247.2px;height:19px;line-height:19px;"><span class="sr">1,500</span></div>
<div class="t num green" style="left:792px;top:491px;width:247.2px;height:19px;line-height:19px;"><span class="sr">1,500</span></div>
<div class="t num green" style="left:1042px;top:491px;width:247.2px;height:19px;line-height:19px;"><span class="sr">4,000</span></div>
<div class="t num green" style="left:1292px;top:491px;width:247.2px;height:19px;line-height:19px;"><span class="sr">4,000</span></div>
<div class="t num green" style="left:1542px;top:491px;width:247.2px;height:19px;line-height:19px;"><span class="sr">3,625</span></div>
<div class="t lab bold" style="left:28px;top:511px;width:262px;height:19px;line-height:19px;"><span class="sl" style="transform:scaleX(0.9609)">Carried Interest ($K)</span></div>
<div class="t num green" style="left:292px;top:511px;width:247.2px;height:19px;line-height:19px;"><span class="sr">-</span></div>
<div class="t num green" style="left:542px;top:511px;width:247.2px;height:19px;line-height:19px;"><span class="sr">-</span></div>
<div class="t num green" style="left:792px;top:511px;width:247.2px;height:19px;line-height:19px;"><span class="sr">-</span></div>
<div class="t num green" style="left:1042px;top:511px;width:247.2px;height:19px;line-height:19px;"><span class="sr">-</span></div>
<div class="t num green" style="left:1292px;top:511px;width:247.2px;height:19px;line-height:19px;"><span class="sr">2,400</span></div>
<div class="t num green" style="left:1542px;top:511px;width:247.2px;height:19px;line-height:19px;"><span class="sr">4,800</span></div>
<div class="t lab bold" style="left:28px;top:531px;width:262px;height:19px;line-height:19px;"><span class="sl" style="transform:scaleX(0.9538)">Portfolio &amp; Transaction Fees ($K)</span></div>
<div class="t num green" style="left:292px;top:531px;width:247.2px;height:19px;line-height:19px;"><span class="sr">2,475</span></div>
<div class="t num green" style="left:542px;top:531px;width:247.2px;height:19px;line-height:19px;"><span class="sr">2,850</span></div>
<div class="t num green" style="left:792px;top:531px;width:247.2px;height:19px;line-height:19px;"><span class="sr">3,150</span></div>
<div class="t num green" style="left:1042px;top:531px;width:247.2px;height:19px;line-height:19px;"><span class="sr">5,125</span></div>
<div class="t num green" style="left:1292px;top:531px;width:247.2px;height:19px;line-height:19px;"><span class="sr">5,950</span></div>
<div class="t num green" style="left:1542px;top:531px;width:247.2px;height:19px;line-height:19px;"><span class="sr">5,150</span></div>
<div class="t lab bold white" style="left:28px;top:551px;width:262px;height:19px;line-height:19px;"><span class="sl" style="transform:scaleX(0.9305)">TOTAL REVENUE ($K)</span></div>
<div class="t num bold white" style="left:292px;top:551px;width:247.2px;height:19px;line-height:19px;"><span class="sr">3,975</span></div>
<div class="t num bold white" style="left:542px;top:551px;width:247.2px;height:19px;line-height:19px;"><span class="sr">4,350</span></div>
<div class="t num bold white" style="left:792px;top:551px;width:247.2px;height:19px;line-height:19px;"><span class="sr">4,650</span></div>
<div class="t num bold white" style="left:1042px;top:551px;width:247.2px;height:19px;line-height:19px;"><span class="sr">9,125</span></div>
<div class="t num bold white" style="left:1292px;top:551px;width:247.2px;height:19px;line-height:19px;"><span class="sr">12,350</span></div>
<div class="t num bold white" style="left:1542px;top:551px;width:247.2px;height:19px;line-height:19px;"><span class="sr">13,575</span></div>
<div class="t lab" style="left:28px;top:571px;width:262px;height:19px;line-height:19px;"><span class="sl" style="transform:scaleX(0.9337)">Management Fee as % of Revenue</span></div>
<div class="t num" style="left:292px;top:571px;width:247.2px;height:19px;line-height:19px;"><span class="sr">37.7%</span></div>
<div class="t num" style="left:542px;top:571px;width:247.2px;height:19px;line-height:19px;"><span class="sr">34.5%</span></div>
<div class="t num" style="left:792px;top:571px;width:247.2px;height:19px;line-height:19px;"><span class="sr">32.3%</span></div>
<div class="t num" style="left:1042px;top:571px;width:247.2px;height:19px;line-height:19px;"><span class="sr">43.8%</span></div>
<div class="t num" style="left:1292px;top:571px;width:247.2px;height:19px;line-height:19px;"><span class="sr">32.4%</span></div>
<div class="t num" style="left:1542px;top:571px;width:247.2px;height:19px;line-height:19px;"><span class="sr">26.7%</span></div>
<div class="t lab" style="left:28px;top:591px;width:262px;height:19px;line-height:19px;"><span class="sl" style="transform:scaleX(0.9285)">Carry as % of Revenue</span></div>
<div class="t num" style="left:292px;top:591px;width:247.2px;height:19px;line-height:19px;"><span class="sr">0.0%</span></div>
<div class="t num" style="left:542px;top:591px;width:247.2px;height:19px;line-height:19px;"><span class="sr">0.0%</span></div>
<div class="t num" style="left:792px;top:591px;width:247.2px;height:19px;line-height:19px;"><span class="sr">0.0%</span></div>
<div class="t num" style="left:1042px;top:591px;width:247.2px;height:19px;line-height:19px;"><span class="sr">0.0%</span></div>
<div class="t num" style="left:1292px;top:591px;width:247.2px;height:19px;line-height:19px;"><span class="sr">19.4%</span></div>
<div class="t num" style="left:1542px;top:591px;width:247.2px;height:19px;line-height:19px;"><span class="sr">35.4%</span></div>
<div style="left:24px;top:24px;width:1870px;height:2px;background:#1a7340;"></div>
<div style="left:24px;top:24px;width:2px;height:43px;background:#1a7340;"></div>
<div style="left:24px;top:65px;width:1870px;height:2px;background:#1a7340;"></div>
<div style="left:26px;top:26px;width:1868px;height:1px;background:#fff;"></div>
<div style="left:26px;top:26px;width:1px;height:39px;background:#fff;"></div>
<div style="left:26px;top:64px;width:1868px;height:1px;background:#fff;"></div>
<div style="left:1894px;top:6px;width:27px;height:901px;background:#e6e6e6;"></div>
<div style="left:1894px;top:24px;width:1px;height:883px;background:#a6a6a6;"></div>
<div style="left:1898px;top:27px;width:19px;height:861px;background:#f3f3f3;"></div>
<div style="left:1898px;top:8px;width:17px;height:17px;background:#fff;border:1px solid #ababab"></div>
<svg style="left:1903px;top:14px" width="9" height="5" viewBox="0 0 10 5"><path d="M0 5 L5 0 L10 5 Z" fill="#262626"/></svg>
<div style="left:1898px;top:27px;width:17px;height:838px;background:#fff;border:1px solid #ababab"></div>
<div style="left:1898px;top:888px;width:17px;height:17px;background:#fff;border:1px solid #ababab"></div>
<svg style="left:1903px;top:896px" width="9" height="5" viewBox="0 0 10 5"><path d="M0 0 L10 0 L5 5 Z" fill="#262626"/></svg>
<div style="left:0px;top:906px;width:1895px;height:1px;background:#a6a6a6;"></div>
<div style="left:0px;top:907px;width:1921px;height:31px;background:#e6e6e6;"></div>
<svg style="left:30px;top:918px" width="6" height="9" viewBox="0 0 6 9"><path d="M5.3 0 L5.3 9 L0 4.5 Z" fill="#c0c0c0"/></svg>
<svg style="left:62px;top:918px" width="6" height="9" viewBox="0 0 6 9"><path d="M0 0 L0 9 L5.5 4.5 Z" fill="#1a6b3c"/></svg>
<div style="left:115px;top:909px;width:112px;height:26px;background:#365f91;"></div>
<div class="t tab" style="left:127px;top:908px;width:100px;height:25px;line-height:25px;color:#fff;letter-spacing:-0.480px;">Cover_Slide</div>
<div class="t tab" style="left:245px;top:908px;width:91px;height:25px;line-height:25px;color:#444;letter-spacing:-0.067px;">Disclaimer</div>
<div style="left:340px;top:909px;width:121px;height:26px;background:#1e3a5c;"></div>
<div class="t tab" style="left:351px;top:908px;width:110px;height:25px;line-height:25px;color:#fff;letter-spacing:0.060px;">Assumptions</div>
<div style="left:466px;top:909px;width:169px;height:26px;background:#1a7a8a;"></div>
<div class="t tab" style="left:480px;top:908px;width:155px;height:25px;line-height:25px;color:#fff;letter-spacing:0.162px;">Fundraising Model</div>
<div style="left:640px;top:909px;width:136px;height:26px;background:#1a7a8a;"></div>
<div class="t tab" style="left:651px;top:908px;width:125px;height:25px;line-height:25px;color:#fff;letter-spacing:-0.127px;">AUM Schedule</div>
<div style="left:779px;top:906px;width:146px;height:27px;background:#fff;"></div>
<div style="left:778px;top:906px;width:1px;height:28px;background:#a6a6a6;"></div>
<div style="left:925px;top:906px;width:1px;height:28px;background:#a6a6a6;"></div>
<div style="left:781px;top:909px;width:142px;height:23px;background:linear-gradient(#fff 0%,#fff 12%,#efdfb8 100%)"></div>
<div style="left:778px;top:933px;width:148px;height:2px;background:#1a7340;"></div>
<div class="t tab" style="left:790px;top:908px;width:135px;height:25px;line-height:25px;color:#1a7340;font-weight:bold;letter-spacing:-0.087px;">Revenue Model</div>
<div style="left:928px;top:909px;width:172px;height:26px;background:#c9a84c;"></div>
<div class="t tab" style="left:941px;top:908px;width:159px;height:25px;line-height:25px;color:#1a1a1a;letter-spacing:0.235px;">Exit &amp; Carry Model</div>
<div style="left:1105px;top:909px;width:177px;height:26px;background:#8b4a2b;"></div>
<div class="t tab" style="left:1117px;top:908px;width:165px;height:25px;line-height:25px;color:#fff;letter-spacing:-0.186px;">Operating Expenses</div>
<div style="left:1287px;top:909px;width:166px;height:26px;background:#1d7d46;"></div>
<div class="t tab" style="left:1300px;top:908px;width:153px;height:25px;line-height:25px;color:#fff;letter-spacing:0.087px;">Income Statement</div>
<div style="left:1458px;top:909px;width:111px;height:26px;background:#1d7d46;"></div>
<div class="t tab" style="left:1469px;top:908px;width:100px;height:25px;line-height:25px;color:#fff;letter-spacing:-0.380px;">Balance Shee</div>
<div style="left:112px;top:910px;width:1px;height:24px;background:#ababab;"></div>
<div style="left:229px;top:910px;width:1px;height:24px;background:#ababab;"></div>
<div style="left:338px;top:910px;width:1px;height:24px;background:#ababab;"></div>
<div style="left:463px;top:910px;width:1px;height:24px;background:#ababab;"></div>
<div style="left:637px;top:910px;width:1px;height:24px;background:#ababab;"></div>
<div style="left:1102px;top:910px;width:1px;height:24px;background:#ababab;"></div>
<div style="left:1284px;top:910px;width:1px;height:24px;background:#ababab;"></div>
<div style="left:1455px;top:910px;width:1px;height:24px;background:#ababab;"></div>
<div style="left:1579px;top:924px;width:2px;height:2px;background:#1a6b3c;"></div>
<div style="left:1584px;top:924px;width:2px;height:2px;background:#1a6b3c;"></div>
<div style="left:1589px;top:924px;width:2px;height:2px;background:#1a6b3c;"></div>
<svg style="left:1605px;top:911px" width="24" height="24" viewBox="1605 911 24 24"><circle cx="1617.1" cy="922.8" r="9.5" fill="none" stroke="#7a7a7a" stroke-width="1.3"/><path d="M1617.1 918 V927.6 M1612.3 922.8 H1621.9" stroke="#6a6a6a" stroke-width="1.5"/></svg>
<div style="left:1647px;top:916px;width:3px;height:3px;background:#b9b9b9;"></div>
<div style="left:1647px;top:921px;width:3px;height:3px;background:#b9b9b9;"></div>
<div style="left:1647px;top:926px;width:3px;height:3px;background:#b9b9b9;"></div>
<div style="left:1667px;top:913px;width:1228px;height:19px;background:#f3f3f3;"></div>
<div style="left:1667px;top:913px;width:17px;height:17px;background:#fff;border:1px solid #ababab"></div>
<svg style="left:1673px;top:918px" width="5" height="9" viewBox="0 0 5 9"><path d="M5 0 L5 9 L0 4.5 Z" fill="#262626"/></svg>
<div style="left:1686px;top:913px;width:118px;height:17px;background:#fff;border:1px solid #ababab"></div>
<div style="left:1876px;top:913px;width:17px;height:17px;background:#fff;border:1px solid #ababab"></div>
<svg style="left:1884px;top:918px" width="5" height="9" viewBox="0 0 5 9"><path d="M0 0 L0 9 L5 4.5 Z" fill="#262626"/></svg>
<div style="left:0px;top:938px;width:1921px;height:28px;background:#f3f3f3;"></div>
<div style="left:0px;top:938px;width:1921px;height:1px;background:#d2d2d2;"></div>
<div class="t st" style="left:14px;top:941px;width:60px;height:24px;line-height:24px;letter-spacing:-0.02px;">Ready</div>
<div class="t st" style="left:138px;top:941px;width:200px;height:24px;line-height:24px;font-weight:bold;letter-spacing:0.1px;">Accessibility: Investigate</div>
<div class="t st" style="left:1430px;top:941px;width:120px;height:24px;line-height:24px;letter-spacing:0.13px;">Display Settings</div>
<div class="t st" style="left:1877px;top:941px;width:40px;height:24px;line-height:24px;letter-spacing:-0.3px;">80%</div>
<svg style="left:76px;top:943px" width="18" height="18" viewBox="76 943 18 18"><rect x="78.5" y="948.5" width="13" height="10" fill="#fff" stroke="#5a5a5a" stroke-width="1"/><rect x="85.4" y="945.3" width="6.6" height="3.4" fill="#5a5a5a"/><circle cx="80.4" cy="947.2" r="3.3" fill="#5a5a5a"/><rect x="81.0" y="949.9" width="1.8" height="0.9" fill="#5a5a5a"/><rect x="84.1" y="949.9" width="1.8" height="0.9" fill="#5a5a5a"/><rect x="87.2" y="949.9" width="1.8" height="0.9" fill="#5a5a5a"/><rect x="81.0" y="952.9" width="1.8" height="0.9" fill="#5a5a5a"/><rect x="84.1" y="952.9" width="1.8" height="0.9" fill="#5a5a5a"/><rect x="87.2" y="952.9" width="1.8" height="0.9" fill="#5a5a5a"/><rect x="81.0" y="955.9" width="1.8" height="0.9" fill="#5a5a5a"/><rect x="84.1" y="955.9" width="1.8" height="0.9" fill="#5a5a5a"/><rect x="87.2" y="955.9" width="1.8" height="0.9" fill="#5a5a5a"/></svg>
<svg style="left:114px;top:942px" width="24" height="22" viewBox="114 942 24 22" fill="none" stroke="#555" stroke-width="1.1"><path d="M121.9 945.2 A7.5 7.5 0 0 0 122.6 959.5" stroke-dasharray="4.6 1.4" stroke-width="1.3"/><path d="M123.5 944.2 V952 M121.4 949.8 L123.5 952.2 L125.6 949.8"/><path d="M127 950.4 H131.6 M129.6 948.2 L131.8 950.4 L129.6 952.6"/><path d="M125.6 954 L134.8 961.6" stroke="#444" stroke-width="1.7"/><path d="M125.6 961.4 L134.4 954.2" stroke="#444" stroke-width="1.7"/></svg>
<svg style="left:1407px;top:941px" width="24" height="24" viewBox="1407 941 24 24"><rect x="1409.2" y="943" width="18.7" height="12.9" rx="1.6" fill="#505050"/><path d="M1413 960.7 L1414.2 959.3 H1417.5 V960.7 Z" fill="#505050"/><circle cx="1422.5" cy="956.3" r="6" fill="#f3f3f3"/><g transform="translate(1422.5 956.3)" fill="#505050"><rect x="-1.5" y="-5.3" width="3" height="10.6" rx="0.6" transform="rotate(0)"/><rect x="-1.5" y="-5.3" width="3" height="10.6" rx="0.6" transform="rotate(60)"/><rect x="-1.5" y="-5.3" width="3" height="10.6" rx="0.6" transform="rotate(120)"/><circle r="3.9"/><circle r="1.5" fill="#fff"/></g></svg>
<div style="left:1547px;top:939px;width:50px;height:26px;background:#c6c6c6;"></div>
<svg style="left:1563px;top:943px" width="18" height="18" viewBox="1563 943 18 18" fill="none" stroke="#6a6a6a" stroke-width="1"><rect x="1564.5" y="944.5" width="15" height="15" fill="#d2d2d2"/><path d="M1569.5 944.5 V959.5 M1574.5 944.5 V959.5 M1564.5 949.5 H1579.5 M1564.5 954.5 H1579.5"/></svg>
<svg style="left:1612px;top:943px" width="19" height="18" viewBox="1612 943 19 18" fill="none" stroke="#6a6a6a" stroke-width="1"><rect x="1613.5" y="944.5" width="16" height="14" fill="#fff"/><rect x="1617.5" y="946.5" width="8" height="10"/><path d="M1619.3 949.4 H1623.7 M1619.3 951.5 H1623.7 M1619.3 953.6 H1623.7" stroke-width="0.9"/></svg>
<svg style="left:1662px;top:943px" width="19" height="18" viewBox="1662 943 19 18" fill="none" stroke="#6a6a6a" stroke-width="1"><rect x="1663.5" y="944.5" width="16" height="15" fill="#fff"/><path d="M1668.5 944.5 V953.5 M1673.5 944.5 V953.5 H1663.5"/></svg>
<div style="left:1720px;top:951px;width:125px;height:1px;background:#444;"></div>
<div style="left:1767px;top:945px;width:6px;height:14px;background:#444;"></div>
<div style="left:1782px;top:949px;width:1px;height:7px;background:#444;"></div>
<div style="left:1704px;top:951px;width:10px;height:1px;background:#444;"></div>
<div style="left:1851px;top:951px;width:9px;height:1px;background:#444;"></div>
<div style="left:1855px;top:947px;width:1px;height:9px;background:#444;"></div>
<div style="left:1919px;top:0px;width:1px;height:966px;background:#b0b0b0;"></div>
<div style="left:1920px;top:0px;width:1px;height:966px;background:#141414;"></div>
<div style="left:0px;top:965px;width:1921px;height:1px;background:#85857c;"></div>
</body></html>
